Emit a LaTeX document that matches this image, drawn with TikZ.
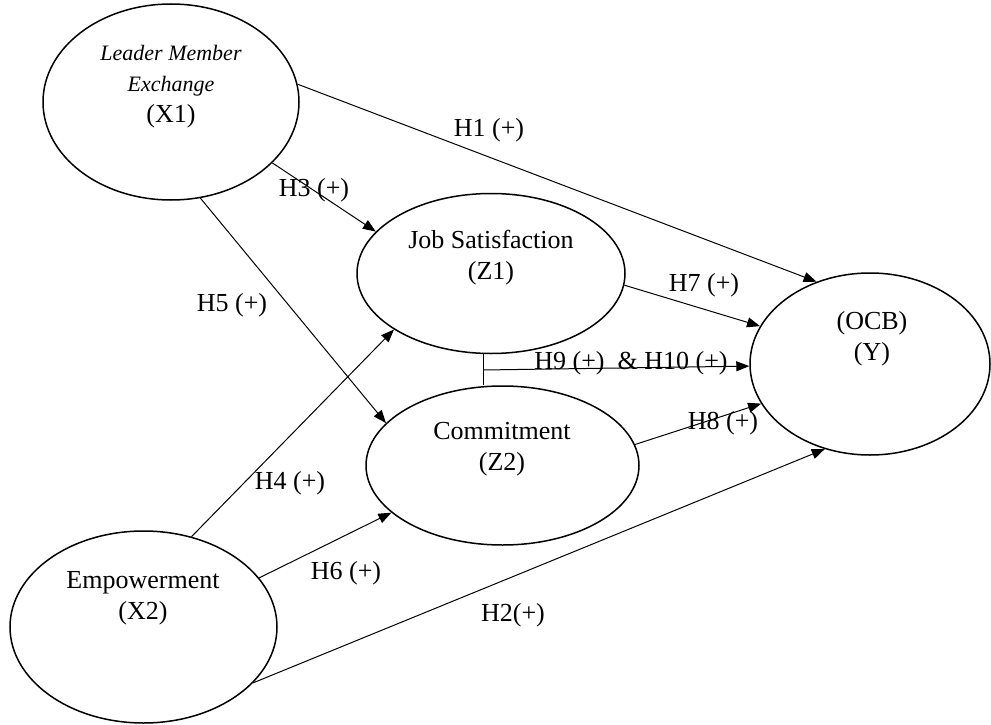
\documentclass[tikz,border=0pt]{standalone}
\usepackage{fontspec}
\setmainfont{Liberation Serif}
\usetikzlibrary{shapes.geometric,arrows.meta}
\newcommand{\smallit}{\fontsize{22}{26}\selectfont\itshape}

\begin{document}
\begin{tikzpicture}[x=1pt, y=-1pt,
	latent/.style={ellipse, draw, line width=1.5pt, inner sep=0pt},
	hyp/.style={-{Triangle[length=13pt,width=10pt]}, line width=1pt},
	every node/.append style={font=\fontsize{26}{31}\selectfont, inner sep=0pt}]
	\useasboundingbox (0,0) rectangle (991,725);
	\node[latent, minimum width=256pt, minimum height=196pt] (x1) at (171, 102) {};
	\node[latent, minimum width=268pt, minimum height=160pt] (z1) at (491, 273.5) {};
	\node[latent, minimum width=273pt, minimum height=159pt] (z2) at (502.5, 465.5) {};
	\node[latent, minimum width=240pt, minimum height=182pt] (y) at (870, 364) {};
	\node[latent, minimum width=267pt, minimum height=192pt] (x2) at (143.5, 627) {};
	\node[align=center] (x1text) at (171, 87) {\smallit Leader Member\\\smallit Exchange\\\upshape\fontsize{26}{31}\selectfont (X1)};
	\node[align=center] (z1text) at (491, 258) {Job Satisfaction\\(Z1)};
	\node[align=center] (z2text) at (502, 449) {Commitment\\(Z2)};
	\node[align=center] (ytext) at (872, 339) {(OCB)\\(Y)};
	\node[align=center] (x2text) at (143, 598) {Empowerment\\(X2)};
	\node (h1) at (489, 130) {H1 (+)};
	\node (h3) at (314, 190) {H3 (+)};
	\node (h5) at (232, 305) {H5 (+)};
	\node (h7) at (704, 285) {H7 (+)};
	\node (h910) at (631, 363) {H9 (+) \ \& H10 (+)};
	\node (h8) at (723, 423) {H8 (+)};
	\node (h4) at (290, 483) {H4 (+)};
	\node (h6) at (346, 573) {H6 (+)};
	\node (h2) at (513, 615) {H2(+)};
	\coordinate (split) at (483, 370);
	\draw[hyp] (x1.8) -- (y.123);
	\draw[hyp] (x1.-31) -- (z1.160);
	\draw[hyp] (x1.-73) -- (z2.160);
	\draw[hyp] (x2.62) -- (z1.210);
	\draw[hyp] (x2.23) -- (z2.203);
	\draw[hyp] (x2.-27) -- (y.242);
	\draw[hyp] (z1.-5) -- (y.161);
	\draw[hyp] (z2.9) -- (y.200);
	\draw[line width=1pt] (z1.south -| split) -- (z2.north -| split);
	\draw[hyp] (split) -- (y.181);
\end{tikzpicture}
\end{document}
